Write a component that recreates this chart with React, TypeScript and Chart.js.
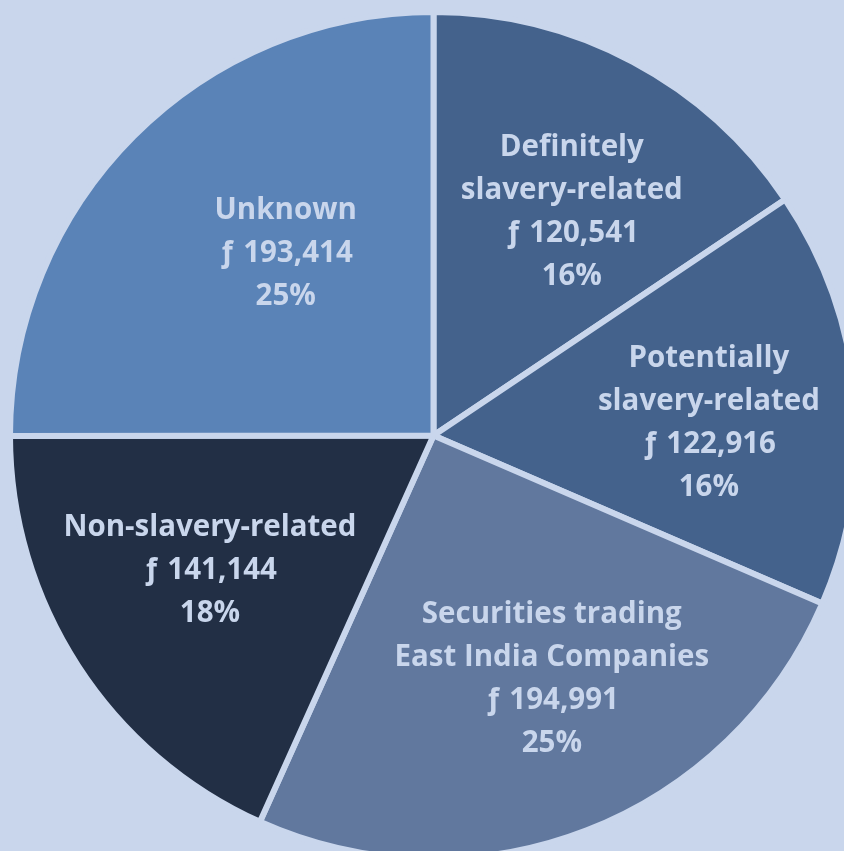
import React, { useEffect, useRef } from "react";
import { Chart, registerables } from "chart.js";

Chart.register(...registerables);

const categories: string[][] = [
  ["Definitely", "slavery-related"],
  ["Potentially", "slavery-related"],
  ["Securities trading", "East India Companies"],
  ["Non-slavery-related"],
  ["Unknown"],
];
const values: number[] = [120541, 122916, 194991, 141144, 193414];
const sliceColors: string[] = ["#44628c", "#44628c", "#61789e", "#222f45", "#5a83b7"];
// label placement relative to the slice: angle shift (deg) and distance (fraction of radius)
const labelAngleShift: number[] = [3.4, 2.0, -5.0, 2.3, 6.4];
const labelDist: number[] = [0.63, 0.656, 0.637, 0.618, 0.563];

const BG = "#c9d6ec";
const TEXT = "#c9d6ec";

const labelPlugin = {
  id: "sliceLabels",
  afterDatasetsDraw(chart: any) {
    const ctx = chart.ctx;
    const meta = chart.getDatasetMeta(0);
    const total = values.reduce((a, b) => a + b, 0);
    ctx.save();
    ctx.fillStyle = TEXT;
    ctx.font = "bold 29.5px 'Open Sans', sans-serif";
    ctx.textAlign = "center";
    ctx.textBaseline = "middle";
    meta.data.forEach((arc: any, i: number) => {
      const { x, y, startAngle, endAngle, outerRadius } = arc.getProps(
        ["x", "y", "startAngle", "endAngle", "outerRadius"],
        true
      );
      const mid = (startAngle + endAngle) / 2 + (labelAngleShift[i] * Math.PI) / 180;
      const r = (outerRadius - 3) * labelDist[i];
      const cx = x + Math.cos(mid) * r;
      const cy = y + Math.sin(mid) * r + 3;
      const lines = [
        ...categories[i],
        "ƒ " + values[i].toLocaleString("en-US"),
        Math.round((values[i] / total) * 100) + "%",
      ];
      const lh = 43;
      const top = cy - ((lines.length - 1) * lh) / 2;
      lines.forEach((t, k) => ctx.fillText(t, cx, top + k * lh));
    });
    ctx.restore();
  },
};

export default function App() {
  const ref = useRef<HTMLCanvasElement>(null);
  useEffect(() => {
    if (!ref.current) return;
    const chart = new Chart(ref.current, {
      type: "pie",
      data: {
        labels: categories.map((c) => c.join(" ")),
        datasets: [
          {
            data: values,
            backgroundColor: sliceColors,
            borderColor: BG,
            borderWidth: 6,
          },
        ],
      },
      options: {
        responsive: false,
        animation: false,
        radius: 423.5,
        layout: { padding: 0 },
        plugins: {
          legend: { display: false },
          tooltip: { enabled: false },
        },
      },
      plugins: [labelPlugin],
    });
    return () => chart.destroy();
  }, []);
  return (
    <div
      style={{
        position: "fixed",
        left: 0,
        top: 0,
        width: 844,
        height: 851,
        overflow: "hidden",
        background: BG,
      }}
    >
      <canvas
        ref={ref}
        width={847}
        height={847}
        style={{ position: "absolute", left: 10, top: 12, width: 847, height: 847 }}
      />
    </div>
  );
}
